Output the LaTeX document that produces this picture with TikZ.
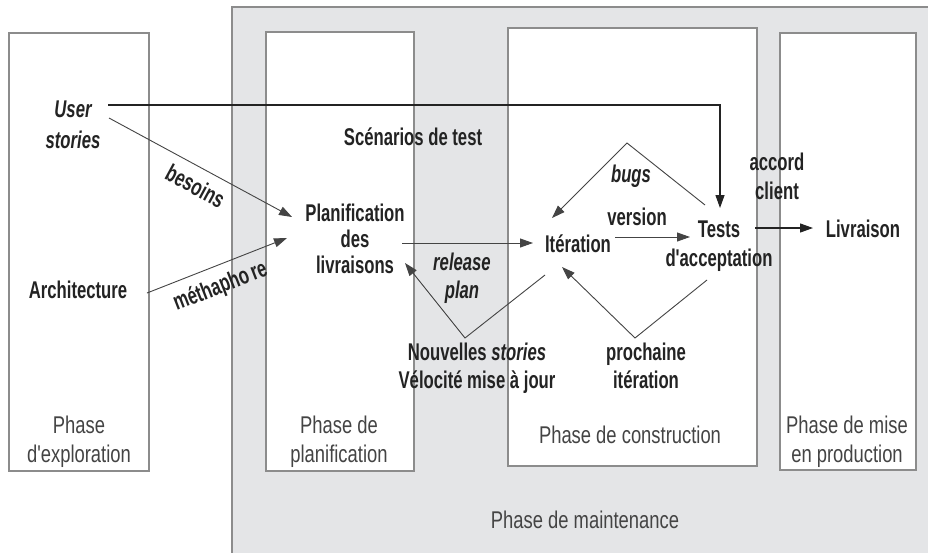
\documentclass[tikz,border=0pt]{standalone}
\usepackage{fontspec}
\setmainfont{Liberation Sans}
% condensed sans faces for the phase names and the flow labels
\newfontfamily\phasefont{Liberation Sans}[FakeStretch=0.76]
\newfontfamily\flowfont{Liberation Sans}[FakeStretch=0.69]
\usetikzlibrary{arrows.meta}

\definecolor{maintfill}{RGB}{228,229,231}
\definecolor{boxedge}{RGB}{140,140,140}
\definecolor{ink}{RGB}{35,35,35}

\begin{document}
\begin{tikzpicture}[x=1pt,y=-1pt,
  phasebox/.style={draw=boxedge, line width=1.3pt, fill=white},
  % multi-line labels are placed by the baseline of their last line
  phaselabel/.style={font=\phasefont\fontsize{24.2}{29}\selectfont, text=ink!85,
    align=center, inner sep=0pt, anchor=base},
  flowlabel/.style={font=\flowfont\bfseries\fontsize{24.2}{28}\selectfont, text=ink,
    align=center, inner sep=0pt, anchor=base},
  tilted/.style={font=\flowfont\bfseries\fontsize{24.2}{28}\selectfont, text=ink,
    inner sep=0pt, anchor=center},
  flow/.style={draw=ink, line width=1.2pt, -{Triangle[length=13pt,width=9pt]}},
  loopflow/.style={draw=ink!85, line width=0.9pt, -{Triangle[length=13pt,width=9pt]}},
]
\useasboundingbox (0,0) rectangle (928,552);
\clip (0,0) rectangle (928,552);

% maintenance area behind everything
\draw[draw=boxedge, line width=1.3pt, fill=maintfill] (232,7) rectangle (945,570);

% phase columns
\draw[phasebox] (9,33) rectangle (149,471);
\draw[phasebox] (266,32) rectangle (414,471);
\draw[phasebox] (508,28) rectangle (757,466);
\draw[phasebox] (780,33) rectangle (916,470);

% phase names
\node[phaselabel] (pexpl) at (79,462) {Phase\\d'exploration};
\node[phaselabel] (pplan) at (339,462) {Phase de\\planification};
\node[phaselabel] (pcons) at (630,443) {Phase de construction};
\node[phaselabel] (pprod) at (847,462) {Phase de mise\\en production};
\node[phaselabel] (pmaint) at (585,528) {Phase de maintenance};

% activities
\node[flowlabel, font=\flowfont\bfseries\itshape\fontsize{24.2}{31}\selectfont] (user) at (73,148) {User\\stories};
\node[flowlabel] (arch) at (78,298) {Architecture};
\node[flowlabel, font=\flowfont\bfseries\fontsize{24.2}{26}\selectfont] (plan) at (355,273) {Planification\\des\\livraisons};
\node[flowlabel] (scen) at (413,145) {Scénarios de test};
\node[flowlabel] (iter) at (578,252) {Itération};
\node[flowlabel] (vers) at (637,225) {version};
\node[flowlabel, font=\flowfont\bfseries\fontsize{24.2}{29}\selectfont] (tests) at (719,266) {Tests\\d'acceptation};
\node[flowlabel] (liv) at (863,237) {Livraison};
\node[flowlabel, font=\flowfont\bfseries\fontsize{24.2}{29}\selectfont] (accord) at (777,199) {accord\\client};
\node[flowlabel, font=\flowfont\bfseries\itshape\fontsize{24.2}{28}\selectfont] (bugs) at (631,182) {bugs};
\node[flowlabel, font=\flowfont\bfseries\itshape\fontsize{24.2}{28}\selectfont] (rel) at (462,298) {release\\plan};
\node[flowlabel] (nouv) at (477,388) {Nouvelles \textit{stories}\\Vélocité mise à jour};
\node[flowlabel] (proch) at (646,388) {prochaine\\itération};
\node[tilted, rotate=-28.4] (besoins) at (195.5,186) {besoins};
\node[tilted, rotate=21.4] (metha) at (220.5,287) {méthapho\kern3pt re};

% connector end points
\coordinate (userout) at (108,105);
\coordinate (testsin) at (720,208);
\coordinate (besoinsout) at (109,118);
\coordinate (besoinsin) at (292,217);
\coordinate (archout) at (147,293);
\coordinate (archin) at (287,238);
\coordinate (planout) at (402,243);
\coordinate (iterin) at (533,243);
\coordinate (iterout) at (615,237);
\coordinate (testsleft) at (690,237);
\coordinate (testsout) at (755,228);
\coordinate (livin) at (813,228);
\coordinate (bugsfrom) at (705,205);
\coordinate (bugstop) at (627,143);
\coordinate (bugsto) at (552,218);
\coordinate (relfrom) at (545,275);
\coordinate (relbottom) at (465,338);
\coordinate (relto) at (405,263);
\coordinate (prochfrom) at (707,280);
\coordinate (prochbottom) at (635,338);
\coordinate (prochto) at (562,267);

% connectors
\draw[flow] (userout) -| (testsin);
\draw[loopflow] (besoinsout) -- (besoinsin);
\draw[loopflow] (archout) -- (archin);
\draw[loopflow] (planout) -- (iterin);
\draw[loopflow] (iterout) -- (testsleft);
\draw[flow] (testsout) -- (livin);
\draw[loopflow] (bugsfrom) -- (bugstop) -- (bugsto);
\draw[loopflow] (relfrom) -- (relbottom) -- (relto);
\draw[loopflow] (prochfrom) -- (prochbottom) -- (prochto);
\end{tikzpicture}
\end{document}
